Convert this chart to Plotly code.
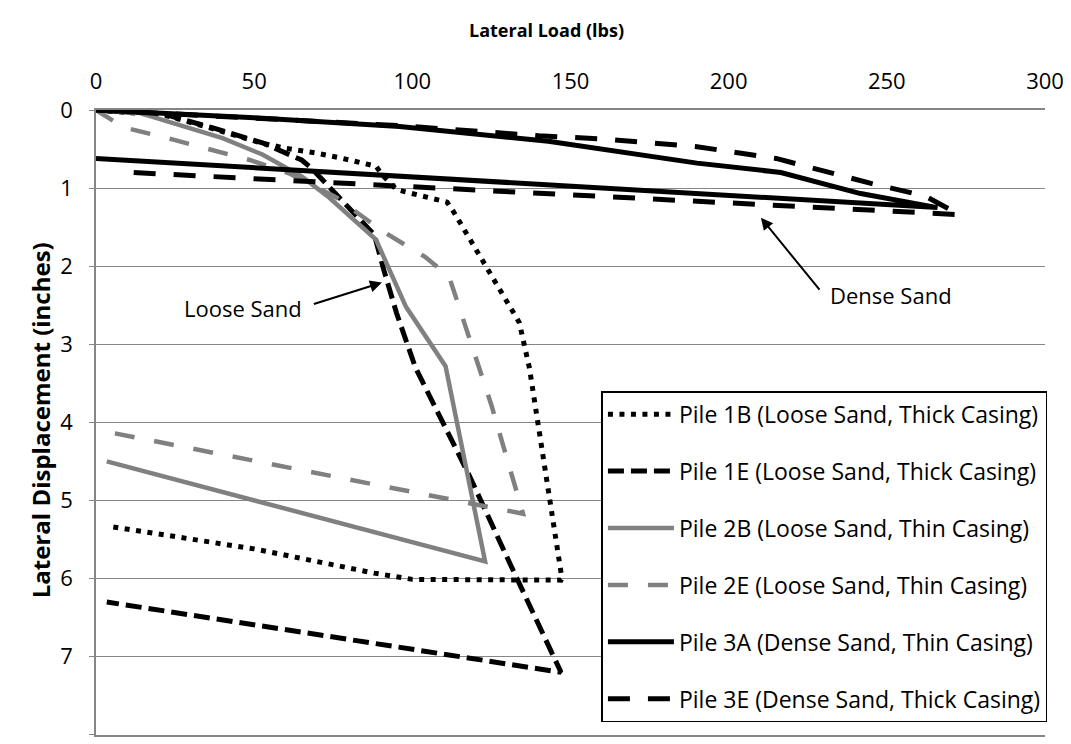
import plotly.graph_objects as go

# ---- data (lateral load in lbs, lateral displacement in inches) ----
pile_1b_load = [0, 22, 37, 52, 60, 69.5, 78, 85.3, 88.5, 90.5, 95, 111, 113, 133.8, 137, 147.3, 147, 100, 88, 50, 4]
pile_1b_disp = [0, 0.07, 0.24, 0.42, 0.49, 0.55, 0.62, 0.68, 0.72, 0.83, 1.02, 1.18, 1.30, 2.72, 3.3, 6.0, 6.02, 6.01, 5.93, 5.62, 5.33]

pile_1e_load = [0, 22, 37, 52.6, 65, 68, 75, 82, 88, 91, 95, 101, 118, 131, 147, 3.4]
pile_1e_disp = [0, 0.06, 0.23, 0.42, 0.64, 0.74, 1.04, 1.34, 1.6, 2.05, 2.6, 3.3, 4.68, 5.82, 7.2, 6.3]

pile_2b_load = [0, 14, 40, 52.6, 65, 73.7, 88.5, 98, 110.5, 123, 3.4]
pile_2b_disp = [0, 0.04, 0.36, 0.57, 0.85, 1.12, 1.66, 2.52, 3.28, 5.78, 4.5]

pile_2e_load = [0, 8.6, 24.4, 37, 48.6, 61, 76, 90.5, 104, 111.6, 116.5, 125, 135, 3.4]
pile_2e_disp = [0, 0.22, 0.38, 0.51, 0.64, 0.81, 1.12, 1.55, 1.88, 2.13, 2.72, 3.78, 5.17, 4.12]

pile_3a_load = [0, 50, 96, 143, 190, 216.5, 241.7, 266, 0]
pile_3a_disp = [0, 0.1, 0.21, 0.40, 0.68, 0.80, 1.07, 1.25, 0.62]

pile_3e_load = [0, 96, 140, 160, 190, 215, 245, 262, 273, 100, 6.6]
pile_3e_disp = [0, 0.2, 0.33, 0.37, 0.47, 0.62, 0.94, 1.1, 1.34, 0.98, 0.79]

series_names = [
    "Pile 1B (Loose Sand, Thick Casing)",
    "Pile 1E (Loose Sand, Thick Casing)",
    "Pile 2B (Loose Sand, Thin Casing)",
    "Pile 2E (Loose Sand, Thin Casing)",
    "Pile 3A (Dense Sand, Thin Casing)",
    "Pile 3E (Dense Sand, Thick Casing)",
]
x_ticks = [0, 50, 100, 150, 200, 250, 300]
y_ticks = [0, 1, 2, 3, 4, 5, 6, 7, 8]

BLACK = "#000000"
GRAY = "#808080"
FONT = "Open Sans"
FS = 22

styles = [
    dict(color=BLACK, width=5, dash="5px,6.5px"),
    dict(color=BLACK, width=5, dash="16px,7px"),
    dict(color=GRAY, width=4.5, dash="solid"),
    dict(color=GRAY, width=4.5, dash="20px,20px"),
    dict(color=BLACK, width=5, dash="solid"),
    dict(color=BLACK, width=5, dash="22px,18px"),
]
data = [
    (pile_1b_load, pile_1b_disp),
    (pile_1e_load, pile_1e_disp),
    (pile_2b_load, pile_2b_disp),
    (pile_2e_load, pile_2e_disp),
    (pile_3a_load, pile_3a_disp),
    (pile_3e_load, pile_3e_disp),
]

fig = go.Figure()
for i, ((xs, ys), name, st) in enumerate(zip(data, series_names, styles)):
    fig.add_trace(go.Scatter(
        x=xs, y=ys, mode="lines", name=name, line=st,
        legendgroup=f"g{i}",
    ))

fig.update_layout(
    width=1063, height=736,
    margin=dict(l=88, r=23, t=102, b=7),
    paper_bgcolor="white", plot_bgcolor="white",
    font=dict(family=FONT, size=FS, color="black"),
    showlegend=True,
    legend=dict(
        x=0.5326, y=0.55, xanchor="left", yanchor="top",
        bgcolor="white", bordercolor="black", borderwidth=1.5,
        font=dict(family=FONT, size=23, color="black"),
        tracegroupgap=24, itemwidth=66,
    ),
    xaxis=dict(
        side="top", range=[0, 300], tickvals=x_ticks,
        showgrid=False, zeroline=False,
        showline=True, mirror=True, linecolor="#868686", linewidth=1.5,
        ticks="", ticklabelstandoff=10,
        tickfont=dict(family=FONT, size=FS, color="black"),
    ),
    yaxis=dict(
        range=[8.003, 0], tickvals=y_ticks,
        showgrid=True, gridcolor="#868686", gridwidth=1.3,
        zeroline=False,
        showline=True, linecolor="#868686", linewidth=1.5,
        ticks="outside", ticklen=5, tickcolor="#868686",
        ticklabelstandoff=12,
        tickfont=dict(family=FONT, size=FS, color="black"),
    ),
    annotations=[
        dict(text="<b>Lateral Load (lbs)</b>", xref="paper", yref="paper",
             x=0.475, y=1.1276, showarrow=False, xanchor="center", yanchor="middle",
             font=dict(family=FONT, size=18, color="black")),
        dict(text="<b>Lateral Displacement (inches)</b>", xref="paper", yref="paper",
             x=-0.0588, y=0.504, showarrow=False, textangle=-90,
             xanchor="center", yanchor="middle",
             font=dict(family=FONT, size=24, color="black")),
        # Loose Sand label + arrow
        dict(text="Loose Sand", xref="x", yref="y", x=46.6, y=2.54,
             showarrow=False, font=dict(family=FONT, size=FS, color="black")),
        dict(text="", xref="x", yref="y", x=90.4, y=2.21,
             axref="x", ayref="y", ax=68.4, ay=2.49,
             showarrow=True, arrowhead=2, arrowsize=1.2, arrowwidth=2, arrowcolor="black",
             standoff=0, startstandoff=0),
        # Dense Sand label + arrow
        dict(text="Dense Sand", xref="x", yref="y", x=251.2, y=2.37,
             showarrow=False, font=dict(family=FONT, size=FS, color="black")),
        dict(text="", xref="x", yref="y", x=210.2, y=1.38,
             axref="x", ayref="y", ax=229.1, ay=2.32,
             showarrow=True, arrowhead=2, arrowsize=1.2, arrowwidth=2, arrowcolor="black",
             standoff=0, startstandoff=0),
    ],
)

fig.write_html("out.html")
